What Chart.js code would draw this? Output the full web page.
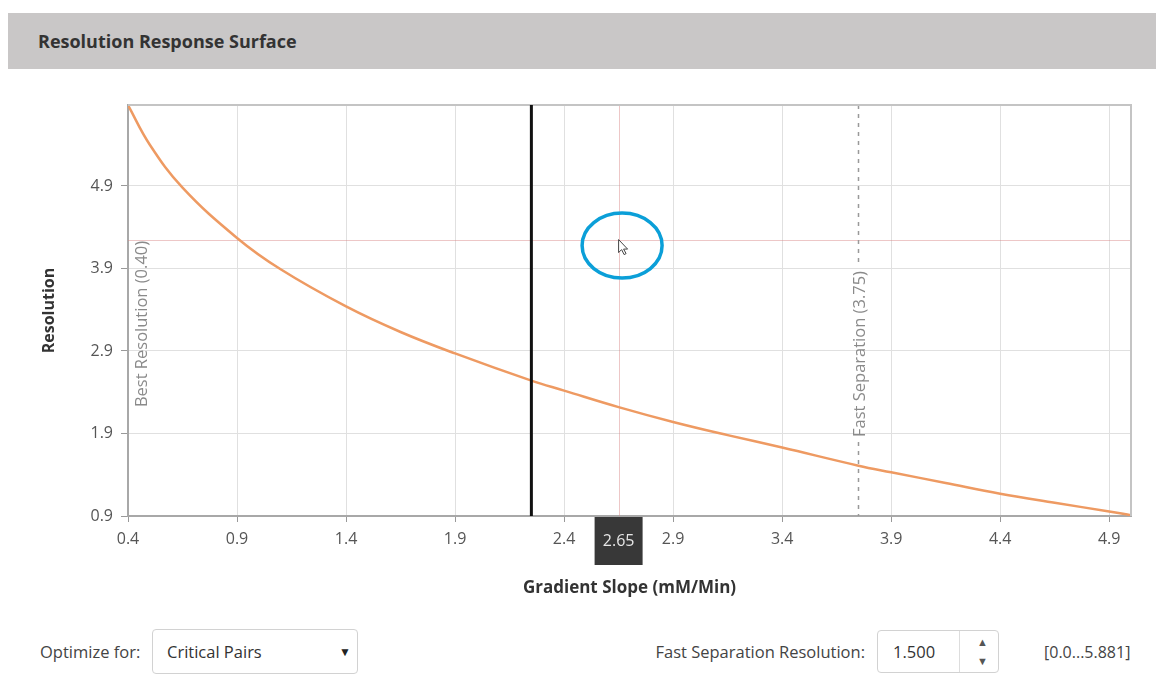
<!DOCTYPE html>
<html>
<head>
<meta charset="utf-8">
<script src="https://cdn.jsdelivr.net/npm/chart.js@4.4.1/dist/chart.umd.min.js"></script>
<style>
  body { margin: 0; width: 1156px; height: 675px; background: #fff; font-family: "Open Sans", sans-serif; position: relative; overflow: hidden; }
  .header { position: absolute; left: 8px; top: 13px; width: 1148px; height: 56px; background: #c9c7c7; }
  .header span { position: absolute; left: 30px; top: 16px; font-weight: bold; font-size: 18px; color: #333; }
  #wrap { position: absolute; left: 0; top: 80px; width: 1156px; height: 540px; }
  .lbl { position: absolute; font-size: 16px; color: #444; line-height: 20px; white-space: nowrap; }
  .box { position: absolute; border: 1px solid #d2d2d2; border-radius: 4px; background: #fff; box-sizing: border-box; }
</style>
</head>
<body>
<div class="header"><span>Resolution Response Surface</span></div>
<div id="wrap"><canvas id="myChart"></canvas></div>

<div class="lbl" style="left:40px; top:642px; font-size:16.5px;">Optimize for:</div>
<div class="box" style="left:152px; top:629px; width:206px; height:45px;">
  <div class="lbl" style="left:14px; top:12px; color:#333; font-size:16.5px;">Critical Pairs</div>
  <div class="lbl" style="left:186px; top:12px; font-size:12px; color:#222;">&#9660;</div>
</div>

<div class="lbl" style="right:291px; top:642px; font-size:16.5px;">Fast Separation Resolution:</div>
<div class="box" style="left:877px; top:630px; width:122px; height:43px;">
  <div class="lbl" style="left:15px; top:11px; color:#333; font-size:16.5px;">1.500</div>
  <div style="position:absolute; left:81px; top:0; width:1px; height:41px; background:#ddd;"></div>
  <div class="lbl" style="left:99px; top:1px; font-size:11px; color:#555;">&#9650;</div>
  <div class="lbl" style="left:99px; top:20px; font-size:11px; color:#555;">&#9660;</div>
</div>
<div class="lbl" style="left:1044px; top:642px; color:#444;">[0.0...5.881]</div>

<script>
const fontFamily = '"Open Sans", sans-serif';

// gradient slope (x) and resolution (y)
const slope = [0.4, 0.5, 0.65, 0.9, 1.1, 1.4, 1.65, 1.9, 2.25, 2.4, 2.65, 2.9, 3.15, 3.4, 3.75, 3.9, 4.15, 4.4, 4.65, 4.9, 5.0];
const resolution = [5.88, 5.40, 4.88, 4.27, 3.89, 3.44, 3.13, 2.87, 2.54, 2.42, 2.22, 2.04, 1.88, 1.73, 1.51, 1.43, 1.30, 1.17, 1.06, 0.955, 0.91];

const xTicks = [0.4, 0.9, 1.4, 1.9, 2.4, 2.9, 3.4, 3.9, 4.4, 4.9];
const yTicks = [0.9, 1.9, 2.9, 3.9, 4.9];

const bestX = 0.40;
const fastX = 3.75;
const currentX = 2.25;
const cursorX = 2.65;
const cursorY = 4.25;

const overlay = {
  id: 'overlay',
  beforeDatasetsDraw(chart) {
    const ctx = chart.ctx, a = chart.chartArea, x = chart.scales.x, y = chart.scales.y;
    ctx.save();
    // crosshair
    ctx.strokeStyle = 'rgba(215,130,130,0.45)';
    ctx.lineWidth = 1;
    const cx = Math.round(x.getPixelForValue(cursorX)) + 0.5;
    const cy = Math.round(y.getPixelForValue(cursorY)) + 0.5;
    ctx.beginPath();
    ctx.moveTo(cx, a.top); ctx.lineTo(cx, a.bottom);
    ctx.moveTo(a.left, cy); ctx.lineTo(a.right, cy);
    ctx.stroke();

    ctx.font = '16.5px ' + fontFamily;
    ctx.fillStyle = '#8a8a8a';
    ctx.textAlign = 'center';
    ctx.textBaseline = 'middle';

    // fast separation dashed line with its label
    const fx = Math.round(x.getPixelForValue(fastX)) + 0.5;
    const fText = 'Fast Separation (' + fastX.toFixed(2) + ')';
    const fMid = a.top + 249;
    const half = ctx.measureText(fText).width / 2 + 5;
    ctx.strokeStyle = '#999';
    ctx.lineWidth = 1.5;
    ctx.setLineDash([4, 5]);
    ctx.beginPath();
    ctx.moveTo(fx, a.top); ctx.lineTo(fx, fMid - half);
    ctx.moveTo(fx, fMid + half); ctx.lineTo(fx, a.bottom);
    ctx.stroke();
    ctx.setLineDash([]);
    ctx.save();
    ctx.translate(fx + 2, fMid);
    ctx.rotate(-Math.PI / 2);
    ctx.fillText(fText, 0, 0);
    ctx.restore();

    // best resolution label
    const bx = x.getPixelForValue(bestX);
    ctx.save();
    ctx.translate(bx + 14, a.top + 219);
    ctx.rotate(-Math.PI / 2);
    ctx.fillText('Best Resolution (' + bestX.toFixed(2) + ')', 0, 0);
    ctx.restore();
    ctx.restore();
  },
  afterDatasetsDraw(chart) {
    const ctx = chart.ctx, a = chart.chartArea, x = chart.scales.x;
    ctx.save();
    // top and right frame
    ctx.strokeStyle = '#c4c4c4';
    ctx.lineWidth = 2;
    ctx.beginPath();
    ctx.moveTo(a.left, a.top); ctx.lineTo(a.right, a.top); ctx.lineTo(a.right, a.bottom);
    ctx.stroke();
    // current slope
    const px = x.getPixelForValue(currentX);
    ctx.strokeStyle = '#111';
    ctx.lineWidth = 3;
    ctx.beginPath();
    ctx.moveTo(px, a.top); ctx.lineTo(px, a.bottom);
    ctx.stroke();
    ctx.restore();
  },
  afterDraw(chart) {
    const ctx = chart.ctx, a = chart.chartArea, x = chart.scales.x, y = chart.scales.y;
    const cx = x.getPixelForValue(cursorX);
    const cy = y.getPixelForValue(cursorY);
    ctx.save();
    // value box on the x axis
    ctx.fillStyle = '#383838';
    ctx.fillRect(cx - 24, a.bottom + 1, 48, 48);
    ctx.fillStyle = '#e6e6e6';
    ctx.font = '16px ' + fontFamily;
    ctx.textAlign = 'center';
    ctx.textBaseline = 'middle';
    ctx.fillText(cursorX.toFixed(2), cx, a.bottom + 25);
    // highlight ring
    ctx.strokeStyle = '#0b9fd8';
    ctx.lineWidth = 3.5;
    ctx.beginPath();
    ctx.ellipse(cx + 3.5, cy + 6, 40, 32.5, 0, 0, Math.PI * 2);
    ctx.stroke();
    // mouse pointer
    ctx.translate(cx, cy);
    ctx.beginPath();
    ctx.moveTo(0, 0); ctx.lineTo(0, 13); ctx.lineTo(3, 10); ctx.lineTo(5.5, 15);
    ctx.lineTo(7.5, 14); ctx.lineTo(5, 9.5); ctx.lineTo(9, 9.5); ctx.closePath();
    ctx.fillStyle = '#fff';
    ctx.fill();
    ctx.strokeStyle = '#444';
    ctx.lineWidth = 1;
    ctx.stroke();
    ctx.restore();
  }
};

const data = {
  datasets: [{
    data: slope.map((s, i) => ({ x: s, y: resolution[i] })),
    borderColor: '#ee9a62',
    borderWidth: 2.5,
    pointRadius: 0,
    tension: 0.4,
    fill: false
  }]
};

const config = {
  type: 'line',
  data: data,
  options: {
    responsive: true,
    maintainAspectRatio: false,
    animation: false,
    layout: { padding: { left: 0, right: 25, top: 25, bottom: 0 } },
    plugins: { legend: { display: false }, tooltip: { enabled: false } },
    scales: {
      x: {
        type: 'linear',
        min: 0.4,
        max: 5.0,
        afterBuildTicks: s => { s.ticks = xTicks.map(v => ({ value: v })); },
        afterFit: s => { s.height = 104; },
        ticks: { callback: v => v.toFixed(1), color: '#555', font: { family: fontFamily, size: 16 }, padding: 8, maxRotation: 0, autoSkip: false },
        grid: { color: '#e0e0e0', tickColor: '#999', tickLength: 6 },
        border: { color: '#a8a8a8', width: 2 },
        title: { display: true, text: 'Gradient Slope (mM/Min)', color: '#333', font: { family: fontFamily, size: 17, weight: 'bold' }, padding: { top: 0, bottom: 22 } }
      },
      y: {
        type: 'linear',
        min: 0.9,
        max: 5.881,
        afterBuildTicks: s => { s.ticks = yTicks.map(v => ({ value: v })); },
        afterFit: s => { s.width = 128; },
        ticks: { callback: v => v.toFixed(1), color: '#555', font: { family: fontFamily, size: 16 }, padding: 8, autoSkip: false },
        grid: { color: '#e0e0e0', tickColor: '#999', tickLength: 7 },
        border: { color: '#a8a8a8', width: 2 },
        title: { display: true, text: 'Resolution', color: '#333', font: { family: fontFamily, size: 16, weight: 'bold' }, padding: { top: 40, bottom: 0 } }
      }
    }
  },
  plugins: [overlay]
};

const myChart = new Chart(document.getElementById('myChart'), config);
</script>
</body>
</html>
